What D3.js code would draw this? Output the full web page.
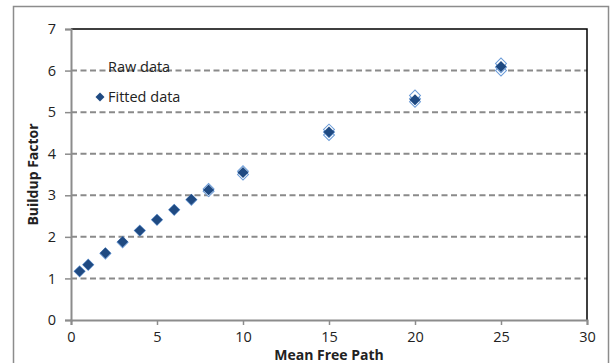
<!DOCTYPE html>
<html>
<head>
<meta charset="utf-8">
<script src="https://cdn.jsdelivr.net/npm/d3@7"></script>
<style>
  body { margin: 0; background: #fff; }
  text { font-family: "Open Sans", "Noto Sans", sans-serif; fill: #222; }
</style>
</head>
<body>
<div id="chart"></div>
<script>
// data
const fittedX = [0.5, 1, 2, 3, 4, 5, 6, 7, 8, 10, 15, 20, 25];
const fittedY = [1.17, 1.33, 1.61, 1.88, 2.15, 2.41, 2.65, 2.90, 3.13, 3.55, 4.52, 5.30, 6.10];
const rawX = [0.5, 1, 2, 3, 4, 5, 6, 7, 8, 8, 10, 10, 15, 15, 15, 20, 20, 20, 25, 25, 25];
const rawY = [1.17, 1.33, 1.60, 1.87, 2.15, 2.41, 2.65, 2.89, 3.10, 3.15, 3.50, 3.58, 4.45, 4.52, 4.58, 5.25, 5.32, 5.40, 6.00, 6.08, 6.17];
const xTicks = [0, 5, 10, 15, 20, 25, 30];
const yTicks = [0, 1, 2, 3, 4, 5, 6, 7];
const legendLabels = ['Raw data', 'Fitted data'];

const W = 610, H = 363;
const margin = {top: 29, right: 23, bottom: 43, left: 71};
const w = W - margin.left - margin.right,
      h = H - margin.top - margin.bottom;

const svg = d3.select('#chart').append('svg')
    .attr('width', W).attr('height', H);

// outer chart border
svg.append('rect')
    .attr('x', 13.5).attr('y', 6.5)
    .attr('width', 595).attr('height', 370)
    .attr('fill', 'none').attr('stroke', '#8c8c8c').attr('stroke-width', 1.5);

const g = svg.append('g')
    .attr('transform', `translate(${margin.left},${margin.top})`);

const x = d3.scaleLinear().domain([0, 30]).range([0, w]);
const y = d3.scaleLinear().domain([0, 7]).range([h, 0]);

// dashed gridlines
g.append('g').selectAll('line')
  .data(yTicks.filter(d => d > 0 && d < 7))
  .join('line')
    .attr('x1', 0).attr('x2', w)
    .attr('y1', d => y(d)).attr('y2', d => y(d))
    .attr('stroke', '#8a8a8a').attr('stroke-width', 2)
    .attr('stroke-dasharray', '6,3.5');

// top and right frame
g.append('path')
    .attr('d', `M0,${y(7)}H${w}V${h}`)
    .attr('fill', 'none').attr('stroke', '#000').attr('stroke-width', 1.5);

// axes
const xAxis = g.append('g')
    .attr('transform', `translate(0,${h})`)
    .call(d3.axisBottom(x).tickValues(xTicks).tickFormat(d3.format('d')).tickSize(5).tickPadding(7));
const yAxis = g.append('g')
    .call(d3.axisLeft(y).tickValues(yTicks).tickFormat(d3.format('d')).tickSize(6).tickPadding(9));
[xAxis, yAxis].forEach(a => {
  a.select('.domain').attr('stroke', '#8c8c8c').attr('stroke-width', 2);
  a.selectAll('.tick line').attr('stroke', '#8c8c8c').attr('stroke-width', 1.5);
  a.selectAll('.tick text').attr('font-size', 14.5).attr('fill', '#222')
    .attr('font-family', '"Open Sans", "Noto Sans", sans-serif');
});

// diamond marker
const diamond = d3.symbol().type(d3.symbolSquare).size(60);

g.append('g').selectAll('path')
  .data(rawX.map((d, i) => [d, rawY[i]]))
  .join('path')
    .attr('d', diamond)
    .attr('transform', d => `translate(${x(d[0])},${y(d[1])}) rotate(45)`)
    .attr('fill', '#fff').attr('stroke', '#6a9bd8').attr('stroke-width', 1);

g.append('g').selectAll('path')
  .data(fittedX.map((d, i) => [d, fittedY[i]]))
  .join('path')
    .attr('d', diamond)
    .attr('transform', d => `translate(${x(d[0])},${y(d[1])}) rotate(45)`)
    .attr('fill', '#1f4a82');

// axis titles
svg.append('text')
    .attr('transform', `translate(38,${margin.top + h / 2}) rotate(-90)`)
    .attr('text-anchor', 'middle')
    .attr('font-size', 14).attr('font-weight', 'bold')
    .text('Buildup Factor');
svg.append('text')
    .attr('x', 329).attr('y', 360)
    .attr('text-anchor', 'middle')
    .attr('font-size', 14).attr('font-weight', 'bold')
    .text('Mean Free Path');

// legend (no background: gridlines show through, as in the reference)
const legend = svg.append('g');
legend.append('text').attr('x', 108).attr('y', 72)
    .attr('font-size', 14.5).text(legendLabels[0]);
legend.append('path')
    .attr('d', d3.symbol().type(d3.symbolSquare).size(40))
    .attr('transform', 'translate(100,97) rotate(45)')
    .attr('fill', '#1f4a82');
legend.append('text').attr('x', 108).attr('y', 102)
    .attr('font-size', 14.5).text(legendLabels[1]);
</script>
</body>
</html>
